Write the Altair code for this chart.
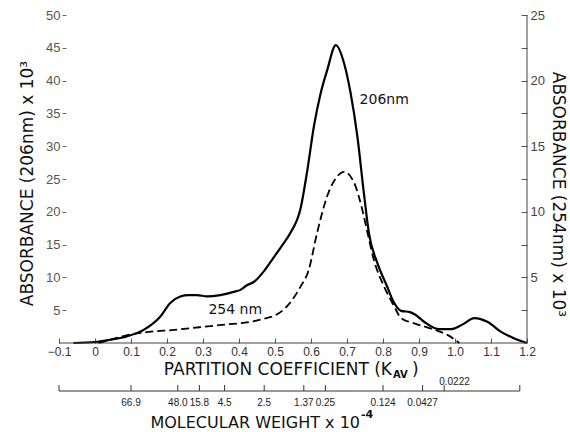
import altair as alt
import pandas as pd

# ---- data ----
# 206 nm trace (left axis, absorbance x 10^3)
kav_206 = [-0.06, 0.0, 0.042, 0.088, 0.135, 0.181, 0.209, 0.237, 0.26, 0.283,
           0.311, 0.348, 0.385, 0.404, 0.422, 0.441, 0.47, 0.497, 0.52, 0.543,
           0.571, 0.59, 0.608, 0.627, 0.645, 0.669, 0.692, 0.71, 0.729, 0.747,
           0.761, 0.785, 0.81, 0.83, 0.85, 0.875, 0.89, 0.915, 0.956, 0.99,
           1.02, 1.054, 1.091, 1.128, 1.165, 1.2]
abs_206 = [0.0, 0.15, 0.5, 1.0, 2.0, 4.0, 6.1, 7.1, 7.3, 7.3,
           7.1, 7.3, 7.8, 8.1, 8.8, 9.3, 11.0, 13.1, 14.9, 16.8,
           20.5, 26.4, 33.0, 38.1, 41.6, 45.4, 42.6, 38.1, 31.4, 22.8,
           16.7, 12.1, 8.8, 6.2, 4.9, 4.7, 4.3, 3.2, 2.1, 2.1,
           2.8, 3.8, 3.2, 1.7, 0.7, 0.0]

# 254 nm trace (right axis, absorbance x 10^3)
kav_254 = [0.01, 0.05, 0.09, 0.15, 0.22, 0.29, 0.36, 0.44, 0.47, 0.50,
           0.54, 0.571, 0.593, 0.617, 0.645, 0.673, 0.692, 0.72, 0.743, 0.757,
           0.775, 0.803, 0.831, 0.85, 0.887, 0.933, 0.98, 1.012]
abs_254 = [0.0, 0.3, 0.6, 0.85, 1.0, 1.2, 1.4, 1.65, 1.85, 2.1,
           3.0, 4.3, 5.5, 8.4, 11.2, 12.7, 13.05, 12.2, 10.1, 8.4,
           6.3, 4.3, 2.8, 1.9, 1.5, 1.1, 0.6, 0.0]

kav_ticks = [-0.1, 0.0, 0.1, 0.2, 0.3, 0.4, 0.5, 0.6, 0.7, 0.8, 0.9, 1.0, 1.1, 1.2]
left_ticks = [5, 10, 15, 20, 25, 30, 35, 40, 45, 50]
right_ticks = [2.5, 5, 7.5, 10, 12.5, 15, 17.5, 20, 22.5, 25]

# molecular weight scale (x 10^-4) positioned on the K_AV scale
mw_kav = [0.10, 0.23, 0.29, 0.36, 0.47, 0.58, 0.64, 0.80, 0.91]
mw_labels = ["66.9", "48.0", "15.8", "4.5", "2.5", "1.37", "0.25", "0.124", "0.0427"]
mw_raised_kav = [0.97]
mw_raised_labels = ["0.0222"]
mw_ends = [-0.1, 1.18]

# ---- layout ----
W, H = 468, 328
TF = "DejaVu Sans"
NF = "Liberation Sans"

XS = alt.Scale(domain=[-0.1, 1.2], nice=False, zero=False)
YL = alt.Scale(domain=[0, 50], nice=False, zero=False)
YR = alt.Scale(domain=[0, 25], nice=False, zero=False)

x_axis = alt.Axis(values=kav_ticks,
                  labelExpr="datum.value == 0 ? '0' : format(datum.value, '.1f')",
                  title=None, offset=-5, tickSize=5, domain=False, grid=False,
                  labelFont=NF, labelFontSize=12, labelColor="#333",
                  tickColor="#555", labelPadding=3, labelFlush=False,
                  labelOverlap=False)
yl_axis = alt.Axis(values=left_ticks, title="ABSORBANCE (206nm) x 10\u00b3",
                   offset=-7, tickSize=4, domain=False, grid=False,
                   labelFont=NF, labelFontSize=13, labelColor="#555",
                   tickColor="#666", labelPadding=2,
                   titleFont=TF, titleFontSize=17, titleFontWeight="normal",
                   titleColor="#111", titleX=-39, titleY=168,
                   titleBaseline="middle", titleAngle=-90)
yr_axis = alt.Axis(values=right_ticks, orient="right",
                   labelExpr="datum.value % 5 == 0 ? datum.label : ''",
                   title="ABSORBANCE (254nm) x 10\u00b3",
                   offset=-6, tickSize=6, domain=False, grid=False,
                   labelFont=NF, labelFontSize=13, labelColor="#444",
                   tickColor="#555", labelPadding=3,
                   titleFont=TF, titleFontSize=17, titleFontWeight="normal",
                   titleColor="#111", titleX=36, titleY=179,
                   titleBaseline="middle", titleAngle=90)

df206 = pd.DataFrame({"kav": kav_206, "a": abs_206})
df254 = pd.DataFrame({"kav": kav_254, "a": abs_254})
dfmw = pd.DataFrame({"kav": mw_kav, "lab": mw_labels})
dfmw_r = pd.DataFrame({"kav": mw_raised_kav, "lab": mw_raised_labels})
dfends = pd.DataFrame({"kav": mw_ends})
one = pd.DataFrame({"n": [0]})

solid = alt.Chart(df206).mark_line(color="black", strokeWidth=2.2,
                                    interpolate="monotone").encode(
    x=alt.X("kav:Q", scale=XS, axis=x_axis),
    y=alt.Y("a:Q", scale=YL, axis=yl_axis))

baseline = alt.Chart(one).mark_rule(color="#444", strokeWidth=1).encode(
    x=alt.XDatum(-0.1, scale=XS, axis=x_axis), x2=alt.datum(1.2),
    y=alt.YDatum(0, scale=YL, axis=yl_axis))

rline = alt.Chart(one).mark_rule(color="#444", strokeWidth=1).encode(
    x=alt.XDatum(1.2, scale=XS, axis=x_axis),
    y=alt.YDatum(0, scale=YL, axis=yl_axis), y2=alt.datum(50))

t206 = alt.Chart(one).mark_text(text="206nm", align="left", baseline="middle",
                                font=TF, fontSize=14, color="#111").encode(
    x=alt.XDatum(0.735, scale=XS, axis=x_axis),
    y=alt.YDatum(37, scale=YL, axis=yl_axis))

t254 = alt.Chart(one).mark_text(text="254 nm", align="left", baseline="middle",
                                font=TF, fontSize=14, color="#111").encode(
    x=alt.XDatum(0.315, scale=XS, axis=x_axis),
    y=alt.YDatum(5, scale=YL, axis=yl_axis))

mw_ticks = alt.Chart(pd.concat([dfmw[["kav"]], dfmw_r[["kav"]], dfends])).mark_rule(
    color="#333", strokeWidth=1).encode(
    x=alt.X("kav:Q", scale=XS, axis=x_axis),
    y=alt.value(370), y2=alt.value(376))

mw_line = alt.Chart(one).mark_rule(color="#333", strokeWidth=1.2).encode(
    x=alt.XDatum(mw_ends[0], scale=XS, axis=x_axis), x2=alt.datum(mw_ends[1]),
    y=alt.value(376))

mw_text = alt.Chart(dfmw).mark_text(font=NF, fontSize=10, color="#222",
                                    baseline="middle", align="center").encode(
    x=alt.X("kav:Q", scale=XS, axis=x_axis), y=alt.value(388), text="lab:N")

mw_text_r = alt.Chart(dfmw_r).mark_text(font=NF, fontSize=10, color="#222",
                                        baseline="middle", align="left", dx=-5).encode(
    x=alt.X("kav:Q", scale=XS, axis=x_axis), y=alt.value(367), text="lab:N")

kt1 = alt.Chart(one).mark_text(text="PARTITION COEFFICIENT (K", align="right",
                               baseline="middle", font=TF, fontSize=17,
                               color="#111").encode(x=alt.value(333), y=alt.value(355))
kt2 = alt.Chart(one).mark_text(text="AV", align="left", baseline="middle",
                               font=TF, fontSize=10, fontWeight="bold",
                               color="#111").encode(x=alt.value(334), y=alt.value(360))
kt3 = alt.Chart(one).mark_text(text=")", align="left", baseline="middle",
                               font=TF, fontSize=17,
                               color="#111").encode(x=alt.value(353), y=alt.value(355))
mwt1 = alt.Chart(one).mark_text(text="MOLECULAR WEIGHT x 10", align="right",
                                baseline="middle", font=TF, fontSize=16,
                                color="#111").encode(x=alt.value(301), y=alt.value(408))
mwt2 = alt.Chart(one).mark_text(text="-4", align="left",
                                baseline="middle", font=TF, fontSize=11, fontWeight="bold",
                                color="#111").encode(x=alt.value(302), y=alt.value(400))

left = alt.layer(solid, baseline, rline, t206, t254, mw_ticks, mw_line,
                 mw_text, mw_text_r, kt1, kt2, kt3, mwt1, mwt2)

dashed = alt.Chart(df254).mark_line(color="black", strokeWidth=1.8,
                                     strokeDash=[8, 4],
                                     interpolate="monotone").encode(
    x=alt.X("kav:Q", scale=XS, axis=x_axis),
    y=alt.Y("a:Q", scale=YR, axis=yr_axis))

chart = alt.layer(left, dashed).resolve_scale(y="independent").properties(
    width=W, height=H,
    autosize=alt.AutoSizeParams(type="none"),
    padding={"left": 59, "top": 15, "right": 43, "bottom": 89},
    background="white",
).configure_view(stroke=None)

chart.save("out.html", embed_options={"renderer": "svg", "actions": False})
